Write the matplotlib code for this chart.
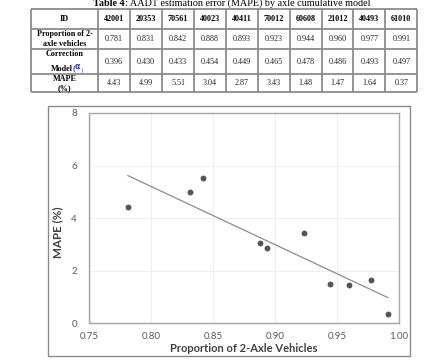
import numpy as np
import matplotlib
matplotlib.use("Agg")
import matplotlib.pyplot as plt
from matplotlib.patches import Rectangle

# ---- data ----
ids = ["42001", "20353", "70561", "40023", "40411", "70012", "60608", "21012", "40493", "61010"]
proportion = [0.781, 0.831, 0.842, 0.888, 0.893, 0.923, 0.944, 0.960, 0.977, 0.991]
correction = [0.396, 0.430, 0.433, 0.454, 0.449, 0.465, 0.478, 0.486, 0.493, 0.497]
mape = [4.43, 4.99, 5.51, 3.04, 2.87, 3.43, 1.48, 1.47, 1.64, 0.37]
x_ticks = [0.75, 0.80, 0.85, 0.90, 0.95, 1.00]
y_ticks = [0, 2, 4, 6, 8]

W, H = 435, 360
fig = plt.figure(figsize=(W / 100, H / 100), dpi=100)
bg = fig.add_axes([0, 0, 1, 1])
bg.set_xlim(0, W)
bg.set_ylim(H, 0)
bg.axis("off")
renderer = fig.canvas.get_renderer()

serif = "Liberation Serif"

# ---- table title ----
t1 = bg.text(93, 3.5, "Table 4", fontfamily=serif, fontweight="bold", fontsize=7.25,
             ha="left", va="center", color="black")
w1 = t1.get_window_extent(renderer).width
bg.text(93 + w1, 3.5, ": AADT estimation error (MAPE) by axle cumulative model",
        fontfamily=serif, fontsize=7.25, ha="left", va="center", color="black")

# ---- table ----
col_edges = [30.7, 98.3] + [98.3 + 31.9 * k for k in range(1, 11)]
row_edges = [9.3, 29.0, 49.3, 74.0, 92.3]
lc = "#8c8c8c"
for x in col_edges:
    bg.plot([x, x], [row_edges[0], row_edges[-1]], color=lc, lw=1.3, solid_capstyle="butt")
for y in row_edges:
    bg.plot([col_edges[0], col_edges[-1]], [y, y], color=lc, lw=1.3, solid_capstyle="butt")

fs_t = 5.9
c0 = (col_edges[0] + col_edges[1]) / 2
bg.text(c0, 19.2, "ID", fontfamily=serif, fontweight="bold", fontsize=fs_t, ha="center", va="center")
bg.text(c0, 34.5, "Proportion of 2-", fontfamily=serif, fontweight="bold", fontsize=fs_t, ha="center", va="center")
bg.text(c0, 43.5, "axle vehicles", fontfamily=serif, fontweight="bold", fontsize=fs_t, ha="center", va="center")
bg.text(c0, 54.5, "Correction", fontfamily=serif, fontweight="bold", fontsize=fs_t, ha="center", va="center")
bg.text(72.5, 69.0, "Model", fontfamily=serif, fontweight="bold", fontsize=fs_t, ha="right", va="center")
bg.text(72.5, 69.0, "(", fontfamily=serif, fontweight="bold", fontsize=fs_t, ha="left", va="center", color="#2b3fd0")
bg.text(74.8, 66.3, "α", fontfamily="DejaVu Sans", fontweight="bold", fontsize=5.5, ha="left", va="center", color="#2b3fd0")
bg.text(80.5, 69.8, ")", fontfamily=serif, fontsize=4.5, ha="left", va="center", color="#2b3fd0")
bg.text(c0, 79.0, "MAPE", fontfamily=serif, fontweight="bold", fontsize=fs_t, ha="center", va="center")
bg.text(c0, 88.0, "(%)", fontfamily=serif, fontweight="bold", fontsize=fs_t, ha="center", va="center")

for i in range(10):
    cx = (col_edges[i + 1] + col_edges[i + 2]) / 2
    bg.text(cx, 19.2, ids[i], fontfamily=serif, fontweight="bold", fontsize=fs_t, ha="center", va="center")
    bg.text(cx, 39.2, f"{proportion[i]:.3f}", fontfamily=serif, fontsize=fs_t, ha="center", va="center", color="#222222")
    bg.text(cx, 61.8, f"{correction[i]:.3f}", fontfamily=serif, fontsize=fs_t, ha="center", va="center", color="#222222")
    bg.text(cx, 83.2, f"{mape[i]:.2f}", fontfamily=serif, fontsize=fs_t, ha="center", va="center", color="#222222")

# ---- chart box ----
bg.add_patch(Rectangle((48.5, 105.5), 362, 250, fill=False, edgecolor="#8a8a8a", lw=1.0))

# ---- chart ----
L, R, T, B = 89.5, 399.0, 113.0, 323.3
ax = fig.add_axes([L / W, 1 - B / H, (R - L) / W, (B - T) / H])
ax.set_xlim(0.75, 1.00)
ax.set_ylim(0, 8)
ax.set_xticks(x_ticks)
ax.set_yticks(y_ticks)
ax.set_xticklabels([f"{v:.2f}" for v in x_ticks])
ax.set_yticklabels([str(v) for v in y_ticks])
ax.grid(True, color="#efefef", lw=0.8)
ax.set_axisbelow(True)
for s in ax.spines.values():
    s.set_color("#a6a6a6")
    s.set_linewidth(1.0)
ax.tick_params(length=0, labelsize=7.0, labelcolor="#595959", pad=9)
for lab in ax.get_xticklabels() + ax.get_yticklabels():
    lab.set_fontfamily("Lato")
ax.tick_params(axis="x", pad=6)

ax.scatter(proportion, mape, s=18, color="#555555", zorder=3, linewidths=0)
k, b = np.polyfit(proportion, mape, 1)
xs = np.array([min(proportion), max(proportion)])
ax.plot(xs, k * xs + b, color="#8c8c8c", lw=0.9, zorder=2)

fig.text(244 / W, 1 - 349 / H, "Proportion of 2-Axle Vehicles", fontfamily="Lato",
         fontweight="bold", fontsize=8.0, color="#404040", ha="center", va="center")
fig.text(58 / W, 1 - 232 / H, "MAPE (%)", fontfamily="Lato", rotation=90,
         fontweight="bold", fontsize=8.4, color="#404040", ha="center", va="center")

fig.savefig("out.png", dpi=100)
